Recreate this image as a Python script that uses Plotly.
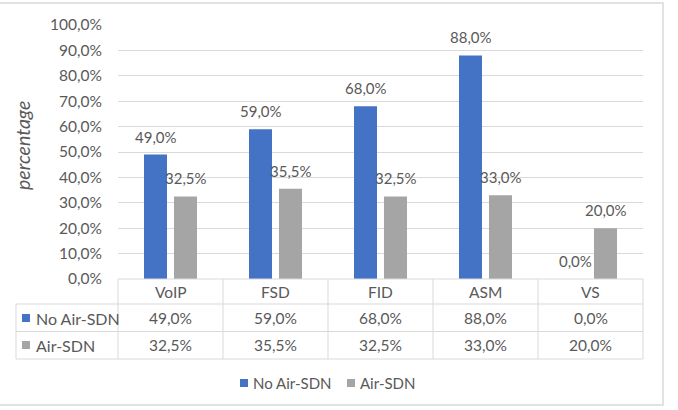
import plotly.graph_objects as go

# Data
categories = ["VoIP", "FSD", "FID", "ASM", "VS"]
no_air_sdn = [49.0, 59.0, 68.0, 88.0, 0.0]
air_sdn = [32.5, 35.5, 32.5, 33.0, 20.0]
series_names = ["No Air-SDN", "Air-SDN"]
y_ticks = [0, 10, 20, 30, 40, 50, 60, 70, 80, 90, 100]

BLUE = "#4472c4"
GREY = "#a5a5a5"
TEXT = "#595959"
LINE = "#d9d9d9"
FONT = "Lato"

W, H = 678, 410
L, R, T, B = 118, 35, 25, 131
PW, PH = W - L - R, H - T - B


def px(x):
    """pixel x -> paper x"""
    return (x - L) / PW


def py(y):
    """pixel y -> paper y"""
    return (H - B - y) / PH


def fmt(v):
    return f"{v:.1f}%".replace(".", ",")


xs = list(range(len(categories)))
series = [(series_names[0], no_air_sdn, BLUE), (series_names[1], air_sdn, GREY)]

fig = go.Figure()
for name, vals, col in series:
    fig.add_trace(go.Bar(x=xs, y=vals, name=name, marker=dict(color=col, line=dict(width=0)),
                         hoverinfo="name+y"))

annotations = []
shapes = []

# value labels above the bars
half_slot = 15 / (PW / len(categories))
for k, (name, vals, col) in enumerate(series):
    off = -half_slot if k == 0 else half_slot
    for i, v in enumerate(vals):
        annotations.append(dict(x=i + off, y=v, xref="x", yref="y", text=fmt(v),
                                showarrow=False, xanchor="center", yanchor="bottom", yshift=7,
                                font=dict(size=15, color=TEXT)))

# data table below the axis
row_lines = [279, 304, 331.5, 359]
row_centers = [292, 318, 345]
tbl_left = 16
for j, yl in enumerate(row_lines):
    x0 = px(L) if j == 0 else px(tbl_left)
    shapes.append(dict(type="line", xref="paper", yref="paper", x0=x0, x1=1,
                       y0=py(yl), y1=py(yl), line=dict(color=LINE, width=1)))
for k in range(len(categories) + 1):
    shapes.append(dict(type="line", xref="paper", yref="paper", x0=k / len(categories),
                       x1=k / len(categories), y0=py(row_lines[0]), y1=py(row_lines[-1]),
                       line=dict(color=LINE, width=1)))
shapes.append(dict(type="line", xref="paper", yref="paper", x0=px(tbl_left), x1=px(tbl_left),
                   y0=py(row_lines[1]), y1=py(row_lines[-1]), line=dict(color=LINE, width=1)))


def cell(x, y, text, xref="x", xanchor="center", size=15.5):
    return dict(x=x, y=y, xref=xref, yref="paper", text=text, showarrow=False,
                xanchor=xanchor, yanchor="middle", font=dict(size=size, color=TEXT))


for i, c in enumerate(categories):
    annotations.append(cell(i, py(row_centers[0]), c))
for r, (name, vals, col) in enumerate(series):
    yc = row_centers[r + 1]
    for i, v in enumerate(vals):
        annotations.append(cell(i, py(yc), fmt(v)))
    shapes.append(dict(type="rect", xref="paper", yref="paper", x0=px(22), x1=px(30),
                       y0=py(yc + 4), y1=py(yc - 4), fillcolor=col, line=dict(width=0)))
    annotations.append(cell(px(34), py(yc), name, xref="paper", xanchor="left", size=16))

# legend
legend_pos = [240, 347]
for (name, vals, col), lx in zip(series, legend_pos):
    shapes.append(dict(type="rect", xref="paper", yref="paper", x0=px(lx), x1=px(lx + 8),
                       y0=py(387), y1=py(379), fillcolor=col, line=dict(width=0)))
    annotations.append(cell(px(lx + 11), py(383), name, xref="paper", xanchor="left", size=15))

# axis title
annotations.append(dict(x=px(22), y=py(146), xref="paper", yref="paper", text="percentage",
                        textangle=-90, showarrow=False, xanchor="center", yanchor="middle",
                        font=dict(size=19.5, color=TEXT, style="italic")))

# chart frame
shapes.append(dict(type="rect", xref="paper", yref="paper", x0=px(-2), x1=px(663),
                   y0=py(405), y1=py(3), line=dict(color=LINE, width=1.5), layer="below"))

fig.update_layout(
    width=W, height=H,
    margin=dict(l=L, r=R, t=T, b=B),
    paper_bgcolor="white", plot_bgcolor="white",
    font=dict(family=FONT, color=TEXT, size=15),
    showlegend=False,
    barmode="group", bargap=0.4286, bargroupgap=0.233,
    annotations=annotations, shapes=shapes,
)
fig.update_xaxes(range=[-0.5, len(categories) - 0.5], showticklabels=False, showgrid=False,
                 zeroline=False, showline=False, ticks="")
fig.update_yaxes(range=[0, 100], tickvals=y_ticks, ticktext=[fmt(t) for t in y_ticks],
                 gridcolor=LINE, gridwidth=1, zeroline=False, showline=False, ticks="",
                 ticklabelstandoff=15, tickfont=dict(size=15.5, color=TEXT))

fig.write_html("out.html")
